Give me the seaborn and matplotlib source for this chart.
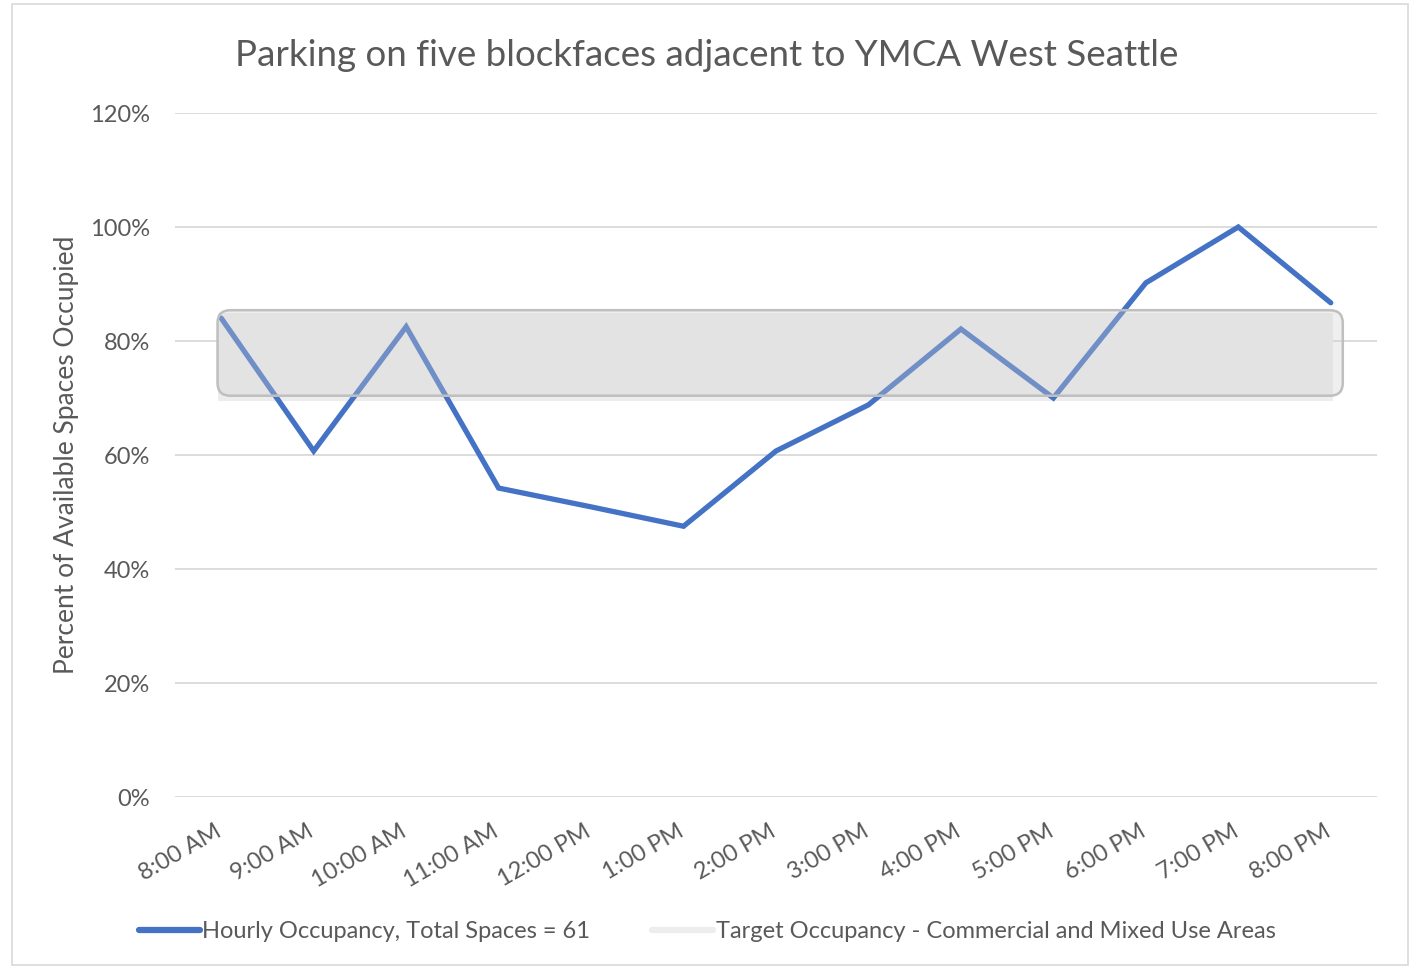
import matplotlib
matplotlib.use("Agg")
import matplotlib.pyplot as plt
import matplotlib.transforms as mtransforms
import seaborn as sns
import pandas as pd
from matplotlib.patches import FancyBboxPatch, Rectangle
from matplotlib.lines import Line2D
from matplotlib.ticker import FuncFormatter

times = ["8:00 AM", "9:00 AM", "10:00 AM", "11:00 AM", "12:00 PM", "1:00 PM", "2:00 PM",
         "3:00 PM", "4:00 PM", "5:00 PM", "6:00 PM", "7:00 PM", "8:00 PM"]
occupancy = [84.0, 60.7, 82.5, 54.2, 50.9, 47.5, 60.7, 68.8, 82.1, 70.0, 90.2, 100.0, 86.7]
target_low = 70
target_high = 85
y_ticks = [0, 20, 40, 60, 80, 100, 120]

title = "Parking on five blockfaces adjacent to YMCA West Seattle"
ylabel = "Percent of Available Spaces Occupied"
label_occ = "Hourly Occupancy, Total Spaces = 61"
label_target = "Target Occupancy - Commercial and Mixed Use Areas"

sns.set_theme(style="white")
plt.rcParams['font.family'] = ['Lato', 'DejaVu Sans']
txt = "#595959"

df = pd.DataFrame({"x": range(len(times)), "occ": occupancy})

fig = plt.figure(figsize=(14.14, 9.69), dpi=100)
ax = fig.add_axes([175/1414, 1-797/969, 1202/1414, 684/969])

for t in y_ticks:
    ax.axhline(t, color="#D9D9D9", lw=1.3, zorder=0)

# target band (light)
ax.fill_between([-0.04, 12.02], target_low - 0.5, target_high, color="#EDEDED", lw=0, zorder=1)

sns.lineplot(data=df, x="x", y="occ", ax=ax, color="#4472C4", lw=3.8, zorder=2,
             solid_capstyle="round", solid_joinstyle="miter")

box = FancyBboxPatch((-0.04, target_low + 0.4), 12.17, target_high - target_low,
                     boxstyle="round,pad=0,rounding_size=0.14",
                     mutation_aspect=16.0,
                     facecolor=(206/255, 206/255, 206/255, 0.32),
                     edgecolor="#BFBFBF", lw=1.8, zorder=3)
ax.add_patch(box)

ax.set_xlim(-0.5, 12.5)
ax.set_ylim(0, 120)
ax.set_yticks(y_ticks)
ax.yaxis.set_major_formatter(FuncFormatter(lambda v, p: f"{int(v)}%"))
ax.set_xticks(range(len(times)))
ax.set_xticklabels(times, rotation=30, ha="right", rotation_mode="anchor")
ax.tick_params(axis="x", colors=txt, labelsize=17, length=0, pad=17)
ax.tick_params(axis="y", colors=txt, labelsize=17, length=0, pad=18)
offset = mtransforms.ScaledTranslation(-7/100, 0, fig.dpi_scale_trans)
for lab in ax.get_xticklabels():
    lab.set_transform(lab.get_transform() + offset)
for s in ax.spines.values():
    s.set_visible(False)
ax.set_xlabel("")
ax.set_ylabel(ylabel, color=txt, fontsize=19, labelpad=8)

fig.text(0.5, 1-55/969, title, ha="center", va="center", fontsize=26.5, color=txt)

handles = [Line2D([0], [0], color="#4472C4", lw=4.5, solid_capstyle="round"),
           Line2D([0], [0], color="#EDEDED", lw=4.5, solid_capstyle="round")]
fig.legend(handles, [label_occ, label_target], loc="center", bbox_to_anchor=(0.5, 1-932/969),
           ncol=2, frameon=False, fontsize=17, labelcolor=txt, handlelength=2.6,
           handletextpad=0.1, columnspacing=2.6)

fig.add_artist(Rectangle((12/1414, 4/969), 1396/1414, 1 - 8/969, transform=fig.transFigure,
                         fill=False, edgecolor="#D9D9D9", lw=1.2))

fig.savefig("out.png", dpi=100, facecolor="white")
